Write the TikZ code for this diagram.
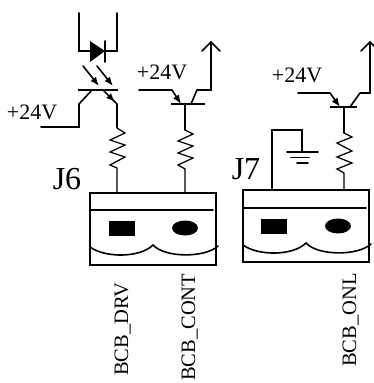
\documentclass[tikz,border=0pt]{standalone}
\usepackage{fontspec}
\setmainfont{Liberation Serif}
\usetikzlibrary{arrows.meta}
\tikzset{
  wire/.style={line width=1.6pt,line cap=round,line join=miter},
  thin wire/.style={line width=1.25pt},
  box/.style={line width=2pt},
  lbl/.style={inner sep=0pt,font=\fontsize{22pt}{22pt}\selectfont},
  jlbl/.style={inner sep=0pt,font=\fontsize{32pt}{32pt}\selectfont},
  vlbl/.style={inner sep=0pt,rotate=90,anchor=base west,font=\fontsize{20.5pt}{20.5pt}\selectfont},
  solidtip/.style={-{Latex[length=9pt,width=7pt]}},
  bar/.style={line width=2pt},
}
\begin{document}
\begin{tikzpicture}[x=1pt,y=-1pt]
\useasboundingbox (0,0) rectangle (374,383);
\clip (0,0) rectangle (374,383);
% connector J6
\draw[box] (90,193) rectangle (216,265);
\draw[wire] (90,210) -- (213,210);
\fill (109,221) rectangle (135,236);
\fill (185,228) ellipse (13 and 7.5);
\draw[wire] (90,247) .. controls (105,258) and (140,258) .. (153,245) .. controls (165,258) and (205,258) .. (218,246);
% connector J7
\draw[box] (243,190) rectangle (369,262);
\draw[wire] (243,208) -- (366,208);
\fill (261,219) rectangle (287,234);
\fill (338,226) ellipse (13 and 7.5);
\draw[wire] (243,245) .. controls (258,256) and (293,256) .. (306,243) .. controls (318,256) and (358,256) .. (371,244);
% opto diode
\draw[wire] (79,13) -- (79,51) -- (90,51);
\draw[wire] (117,13) -- (117,51) -- (105,51);
\fill (90,41) -- (90,62) -- (105,51) -- cycle;
\draw[wire] (105,41) -- (105,62);
\draw[wire,solidtip] (83,66) -- (99,86);
\draw[wire,solidtip] (97,66) -- (113,86);
\draw[bar] (78,90) -- (118,90);
\draw[wire] (41,127) -- (79,127) -- (79,104) -- (92,90);
\draw[wire,solidtip] (103,90) -- (115,102);
\draw[wire] (113,100) -- (117,104) -- (117,127);
\draw[thin wire] (117,127) -- (117,128) -- (125,133) -- (110,140) -- (125,145) -- (110,152) -- (125,157) -- (110,165) -- (117,168) -- (117,192);
% transistor 2
\draw[wire] (139,90) -- (172,90);
\draw[wire,solidtip] (172,90) -- (181,104);
\draw[bar] (171,104) -- (205,104);
\draw[wire] (191,104) -- (197,90) -- (211,90) -- (211,42);
\draw[wire] (202,51) -- (211,42) -- (220,51);
\draw[wire] (185,104) -- (185,130);
\draw[thin wire] (185,130) -- (193,134) -- (178,141) -- (193,146) -- (178,153) -- (193,158) -- (178,165) -- (185,169) -- (185,192);
% transistor 3
\draw[wire] (298,93) -- (330,93);
\draw[wire,solidtip] (330,93) -- (340,107);
\draw[bar] (330,107) -- (357,107);
\draw[wire] (350,107) -- (360,93) -- (370,93) -- (370,42);
\draw[wire] (361,51) -- (370,42) -- (379,51);
\draw[wire] (344,107) -- (344,133);
\draw[thin wire] (344,133) -- (352,137) -- (337,143) -- (352,151) -- (337,157) -- (352,163) -- (337,169) -- (344,173) -- (344,190);
% ground
\draw[thin wire] (272,190) -- (272,130) -- (302,130) -- (302,152);
\draw[wire] (287,152) -- (318,152);
\draw[wire] (291,157.5) -- (309,157.5);
\draw[wire] (297,163) -- (308,163);
% labels
\node[lbl,anchor=center] (v1) at (32,112) {+24V};
\node[lbl,anchor=center] (v2) at (162,72) {+24V};
\node[lbl,anchor=center] (v3) at (297,75) {+24V};
\node[jlbl,anchor=center] (j6) at (67,179) {J6};
\node[jlbl,anchor=center] (j7) at (246,169) {J7};
\node[vlbl] (l1) at (128,376) {BCB\_DRV};
\node[vlbl] (l2) at (195,381) {BCB\_CONT};
\node[vlbl] (l3) at (356,367) {BCB\_ONL};
\end{tikzpicture}
\end{document}
